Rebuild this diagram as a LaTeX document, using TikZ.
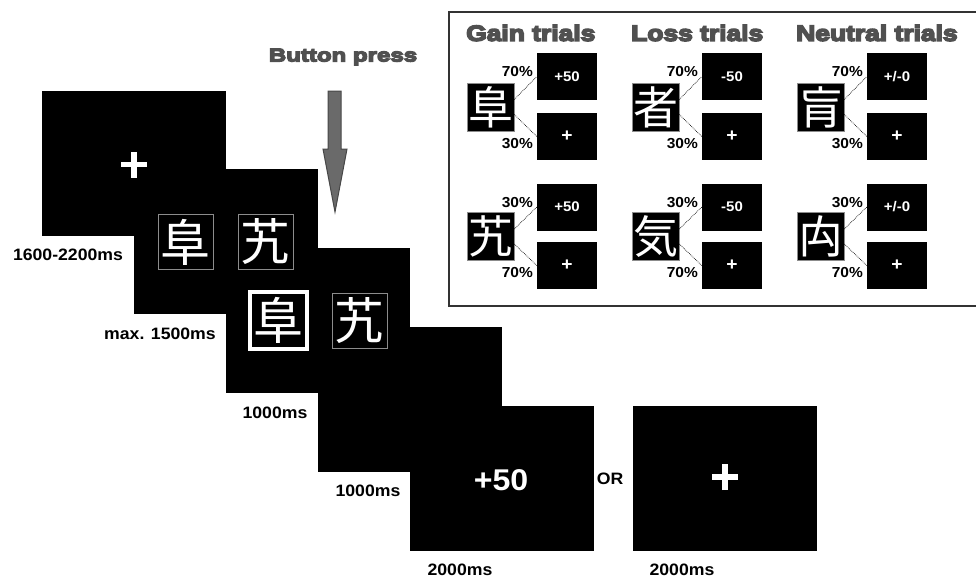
\documentclass[tikz,border=0pt]{standalone}
\usepackage{fontspec}
\setmainfont{Liberation Sans}[FakeStretch=1.07]
\newfontfamily\headfont{Liberation Sans Bold}[FakeStretch=1.2,FakeBold=7]
\newfontfamily\pressfont{Liberation Sans Bold}[FakeStretch=1.3,FakeBold=7]
\newfontfamily\cjk{Noto Sans CJK JP}
\usetikzlibrary{calc}

\definecolor{headgray}{HTML}{505050}
\definecolor{arrowfill}{HTML}{6A6A6A}
\definecolor{arrowedge}{HTML}{474747}
\definecolor{framegray}{HTML}{333333}
\definecolor{glyphedge}{HTML}{8C8C8C}

\tikzset{
  screen/.style={fill=black, draw=none, minimum width=184pt, minimum height=145pt, inner sep=0pt},
  glyphbox/.style={fill=black, draw=glyphedge, line width=0.8pt, text=white, inner sep=0pt,
    minimum size=55pt, font=\cjk\fontsize{50}{50}\selectfont},
  chosenbox/.style={glyphbox, draw=white, line width=4pt, minimum size=57pt},
  crossbar/.style={white, line width=5.5pt},
  timelabel/.style={font=\bfseries\fontsize{16.5}{18}\selectfont, inner sep=0pt},
  feedback/.style={text=white, font=\bfseries\fontsize{30}{32}\selectfont, inner sep=0pt},
  hdr/.style={text=headgray, font=\headfont\fontsize{22}{24}\selectfont, inner sep=0pt, anchor=west},
  pressnote/.style={text=headgray, font=\pressfont\fontsize{18.5}{20}\selectfont, inner sep=0pt},
  cue/.style={fill=black, draw=glyphedge, line width=0.6pt, text=white, inner sep=0pt,
    minimum width=47pt, minimum height=48pt, font=\cjk\fontsize{45}{45}\selectfont},
  outbox/.style={fill=black, text=white, inner sep=0pt, minimum width=60pt, minimum height=47pt,
    font=\bfseries\fontsize{14}{16}\selectfont},
  pct/.style={font=\bfseries\fontsize{14.5}{16}\selectfont, inner sep=0pt, anchor=east},
  prob/.style={densely dotted, line width=0.7pt, black},
}

% one column of the legend: #1 left x, #2 name prefix, #3 heading,
% #4 cue of the upper pair, #5 cue of the lower pair, #6 outcome text
\newcommand\trialcol[6]{%
  \node[hdr] (#2h) at (#1-1,33) {#3};
  % upper pair: 70% outcome / 30% no outcome
  \node[cue] (#2c1) at (#1+23.5,107) {#4};
  \node[outbox] (#2o1) at (#1+100,76.5) {#6};
  \node[outbox, font=\bfseries\fontsize{18}{18}\selectfont] (#2o2) at (#1+100,136.5) {+};
  \node[pct] (#2p1) at (#1+66,72) {70\%};
  \node[pct] (#2p2) at (#1+66,144) {30\%};
  \draw[prob] ([yshift=7.5pt]#2c1.east) -- (#2o1.west);
  \draw[prob] ([yshift=-7.5pt]#2c1.east) -- (#2o2.west);
  % lower pair: 30% outcome / 70% no outcome
  \node[cue] (#2c2) at (#1+23.5,236.5) {#5};
  \node[outbox] (#2o3) at (#1+100,207) {#6};
  \node[outbox, font=\bfseries\fontsize{18}{18}\selectfont] (#2o4) at (#1+100,265.5) {+};
  \node[pct] (#2p3) at (#1+66,203) {30\%};
  \node[pct] (#2p4) at (#1+66,273) {70\%};
  \draw[prob] ([yshift=7.5pt]#2c2.east) -- (#2o3.west);
  \draw[prob] ([yshift=-7.5pt]#2c2.east) -- (#2o4.west);
}

\begin{document}
\begin{tikzpicture}[x=1pt,y=-1pt]
\useasboundingbox (0,0) rectangle (976,578);

% ---- trial sequence: the stacked screens ----
\node[screen] (s1) at (134,163.5) {};
\node[screen] (s2) at (226,241.5) {};
\node[screen] (s3) at (318,320.5) {};
\node[screen] (s4) at (410,399.5) {};
\node[screen] (s5) at (502,478.5) {};
\node[screen] (s6) at (725,478.5) {};

% fixation
\draw[crossbar] ([xshift=-13pt,yshift=-1pt]s1.center) -- ([xshift=13pt,yshift=-1pt]s1.center);
\draw[crossbar] ([yshift=-14pt]s1.center) -- ([yshift=12pt]s1.center);
\node[timelabel] (t1) at (68,255) {1600-2200ms};

% choice
\node[glyphbox] (g2a) at (185.5,242) {阜};
\node[glyphbox] (g2b) at (265.5,242) {艽};
\node[timelabel] (t2) at (160,334) {max. 1500ms};

% chosen option highlighted
\node[chosenbox] (g3a) at (278.5,320) {阜};
\node[glyphbox] (g3b) at (359.5,320.5) {艽};
\node[timelabel] (t3) at (275,413) {1000ms};

% delay
\node[timelabel] (t4) at (368,491) {1000ms};

% feedback
\node[feedback] (f5) at (501,480) {+50};
\node[timelabel] (t5) at (460,570) {2000ms};

\node[timelabel] (or) at (610,479) {OR};

\draw[crossbar] ([xshift=-13pt,yshift=1.5pt]s6.center) -- ([xshift=13pt,yshift=1.5pt]s6.center);
\draw[crossbar] ([yshift=-11.5pt]s6.center) -- ([yshift=14.5pt]s6.center);
\node[timelabel] (t6) at (682,570) {2000ms};

% button press marker
\node[pressnote] (bp) at (343,57) {Button press};
\filldraw[fill=arrowfill, draw=arrowedge, line width=1pt]
  (328,91) -- (341,91) -- (341,149) -- (347,149) -- (335,212) -- (323,149) -- (328,149) -- cycle;

% ---- legend ----
\draw[framegray, line width=2pt] (449,12) rectangle (985,306);
\trialcol{467}{gain}{Gain trials}{阜}{艽}{+50}
\trialcol{632}{loss}{Loss trials}{者}{気}{-50}
\trialcol{797}{neut}{Neutral trials}{肓}{禸}{+/-0}
\end{tikzpicture}
\end{document}
